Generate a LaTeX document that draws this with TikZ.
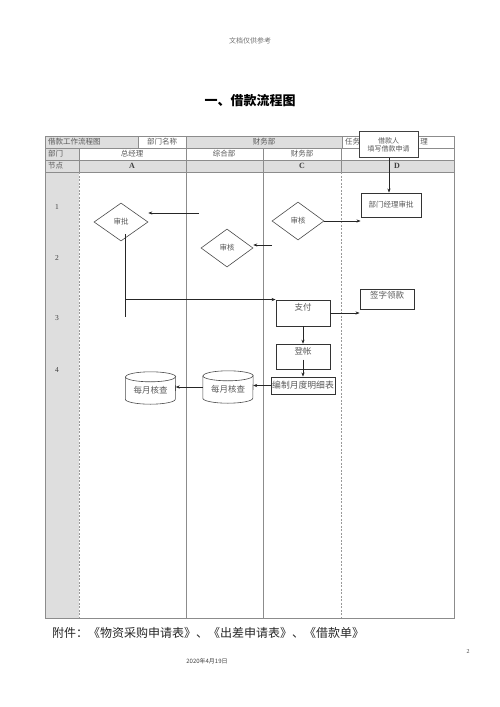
\documentclass[tikz,border=0pt]{standalone}
\usepackage{fontspec}
\setmainfont{Liberation Serif}
\newfontfamily\cjk{Noto Sans CJK SC}
\usetikzlibrary{arrows.meta,calc,shapes.geometric}
\newcommand{\fsz}[1]{\fontsize{#1}{#1}\selectfont}
\tikzset{
  grid/.style={draw=black!45, line width=0.5pt},
  gridd/.style={draw=black!40, line width=0.6pt, dash pattern=on 2pt off 1.5pt},
  hdr/.style={inner sep=0pt, text=black!65, font=\cjk\fsz{7.5}},
  lat/.style={inner sep=0pt, text=black!75, font=\bfseries\fsz{8}},
  num/.style={inner sep=0pt, text=black!75, font=\fsz{7.5}},
  fbox/.style={draw=black!75, line width=0.6pt, fill=white, inner sep=0pt, text=black!65, font=\cjk\fsz{7.5}},
  tbox/.style={draw=black!80, line width=0.9pt, fill=white, inner sep=0pt, text=black!65, font=\cjk\fsz{8}},
  dia/.style={shape=diamond, draw=black!70, line width=0.6pt, fill=white, inner sep=0pt, text=black!65, font=\cjk\fsz{7.5}},
  cylbox/.style={inner sep=0pt, minimum width=50pt, minimum height=32pt, text=black!65, font=\cjk\fsz{8.5}},
  cyl/.style={draw=black!70, line width=0.6pt},
  arr/.style={draw=black!85, line width=0.6pt, -{Stealth[length=4pt,width=3.2pt]}},
  ln/.style={draw=black!85, line width=0.6pt},
}
\begin{document}
\begin{tikzpicture}[x=1pt,y=-1pt]
\useasboundingbox (0,0) rectangle (500,707);
% gray fills
\fill[black!13] (45,136) rectangle (138,148);
\fill[black!13] (186,136) rectangle (342,148);
\fill[black!13] (45,148) rectangle (79,160);
\fill[black!13] (45,160) rectangle (454,172);
\fill[black!13] (45,172) rectangle (79,618);
% grid
\draw[grid] (45,136) rectangle (454,618);
\draw[grid] (45,148) -- (454,148);
\draw[grid] (45,160) -- (454,160);
\draw[grid] (45,172) -- (454,172);
\draw[grid] (138,136) -- (138,148);
\draw[grid] (342,136) -- (342,148);
\draw[grid] (186,136) -- (186,618);
\draw[grid] (263,148) -- (263,618);
\draw[grid] (79,148) -- (79,172);
\draw[grid] (341,148) -- (341,172);
\draw[gridd] (79,172) -- (79,618);
\draw[gridd] (341,172) -- (341,618);
% page texts
\node[inner sep=0pt, text=black!55, font=\cjk\fsz{7}] (hd) at (250,41) {文档仅供参考};
\node[inner sep=0pt, text=black, font=\cjk\bfseries\fsz{13}] (title) at (250,101) {一、借款流程图};
\node[inner sep=0pt, anchor=west, text=black!85, font=\cjk\fsz{12}] (foot) at (52,633) {附件：《物资采购申请表》、《出差申请表》、《借款单》};
\node[inner sep=0pt, text=black!75, font=\cjk\fsz{6}] (date) at (207,661) {2020年4月19日};
\node[inner sep=0pt, text=black!75, font=\fsz{6}] (pg) at (468,652) {2};
% header texts
\node[hdr, anchor=west] (h1) at (48,142) {借款工作流程图};
\node[hdr] (h2) at (162,142) {部门名称};
\node[hdr] (h3) at (264,142) {财务部};
\node[hdr, anchor=west] (h4) at (345,142) {任务};
\node[hdr] (h5) at (424,142) {理};
\node[hdr, anchor=west] (r1) at (48,154) {部门};
\node[hdr] (r2) at (132,154) {总经理};
\node[hdr] (r3) at (224,154) {综合部};
\node[hdr] (r4) at (302,154) {财务部};
\node[hdr, anchor=west] (n0) at (48,166) {节点};
\node[lat] (nA) at (132,166) {A};
\node[lat] (nC) at (302,166) {C};
\node[lat] (nD) at (397,166) {D};
\node[num] (k1) at (57,207) {1};
\node[num] (k2) at (57,258) {2};
\node[num] (k3) at (57,318) {3};
\node[num] (k4) at (57,370) {4};
% flow nodes
\node[fbox, minimum width=59pt, minimum height=26pt, align=center, font=\cjk\fsz{7}] (app) at (388.5,144.5) {借款人\\[1pt]填写借款申请};
\node[tbox, minimum width=60pt, minimum height=24pt, font=\cjk\fsz{7.5}] (mgr) at (391,205) {部门经理审批};
\node[dia, minimum width=52pt, minimum height=38pt] (dr) at (298,221) {};
\node[hdr] at (dr.center) {审核};
\node[dia, minimum width=54pt, minimum height=38pt] (da) at (121,222) {};
\node[hdr] at (da.center) {审批};
\node[dia, minimum width=52pt, minimum height=38pt] (dr2) at (227,248) {};
\node[hdr] at (dr2.center) {审核};
\node[tbox, minimum width=54pt, minimum height=26pt] (pay) at (303,313) {};
\node[hdr, font=\cjk\fsz{8.5}] (payt) at (303,307) {支付};
\node[tbox, minimum width=54pt, minimum height=20pt] (sign) at (387,299) {};
\node[hdr, font=\cjk\fsz{8.5}] (signt) at (387,295) {签字领款};
\node[tbox, line width=0.6pt, minimum width=54pt, minimum height=25pt] (led) at (303,356.5) {};
\node[hdr, font=\cjk\fsz{8.5}] (ledt) at (303,351) {登帐};
\node[tbox, minimum width=64pt, minimum height=17pt, font=\cjk\fsz{8.8}] (rep) at (303,385.5) {编制月度明细表};
\node[cylbox] (c1) at (228,387) {};
\node[cylbox] (c2) at (150.5,388) {};
% cylinders
\foreach \c in {c1,c2}{
  \draw[cyl, fill=white] ([yshift=-5pt]\c.north west) -- ([yshift=5pt]\c.south west) arc[start angle=180,end angle=360,x radius=25pt,y radius=5pt] -- ([yshift=-5pt]\c.north east) arc[start angle=0,end angle=180,x radius=25pt,y radius=5pt] -- cycle;
  \draw[cyl] ([yshift=-5pt]\c.north west) arc[start angle=180,end angle=360,x radius=25pt,y radius=5pt];
  \node[hdr, font=\cjk\fsz{8.5}] at ([yshift=-2pt]\c.center) {每月核查};
}
% overlay box on header
\node[fbox, line width=0.8pt, minimum width=59pt, minimum height=26pt, align=center, font=\cjk\fsz{7}] at (app.center) {借款人\\[1pt]填写借款申请};
% connectors
\coordinate (a1) at (199,213);
\coordinate (a2) at (272,245);
\coordinate (v1) at (125,234);
\coordinate (v2) at (125,317);
\draw[arr] (app.south -| 389,0) -- (389,0 |- mgr.north);
\draw[arr] (dr.east) -- (dr.east -| mgr.west);
\draw[arr] (a1) -- (a1 -| da.east);
\draw[arr] (a2) -- (a2 -| dr2.east);
\draw[ln] (v1) -- (v2);
\draw[arr] (v1 |- pay.north) -- (pay.north west);
\draw[arr] (pay.east) -- (pay.east -| sign.west);
\draw[arr] (pay.south) -- (led.north);
\draw[arr] ([yshift=-3pt]led.center) -- (rep.north);
\draw[arr] (rep.west) -- (rep.west -| c1.east);
\draw[arr] (c1.west) -- (c1.west -| c2.east);
\end{tikzpicture}
\end{document}
